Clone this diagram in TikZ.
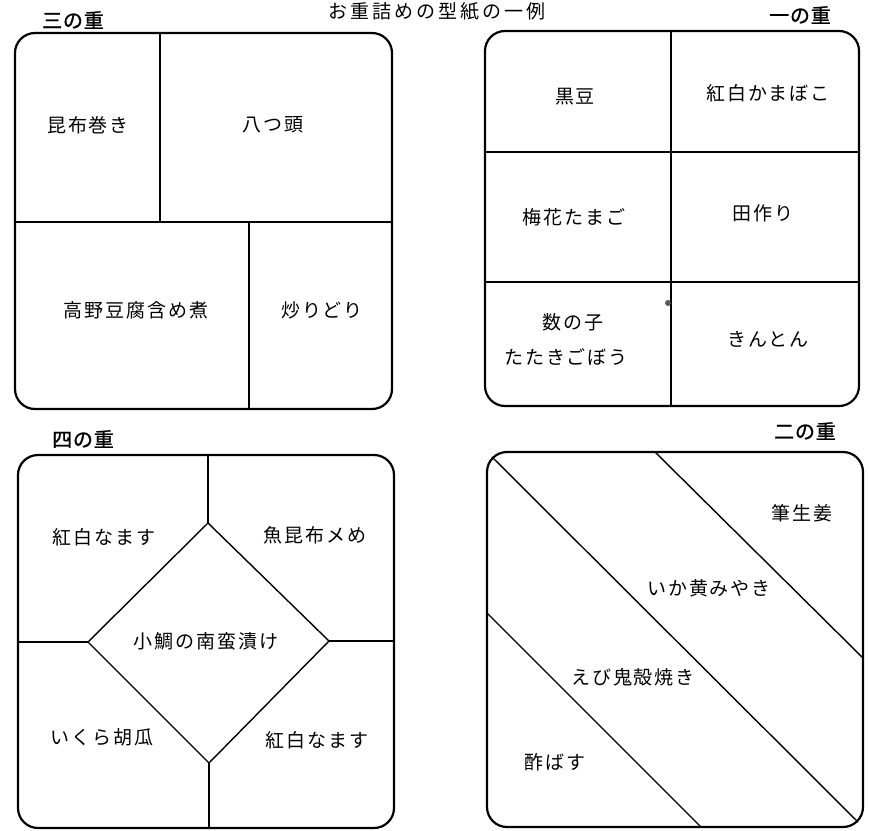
\documentclass[tikz,border=0pt]{standalone}
\usepackage{fontspec}
\setmainfont{Noto Sans CJK JP}
\newfontfamily\jpfont[LetterSpace=10]{Noto Sans CJK JP}
\newfontfamily\jptitle[LetterSpace=16]{Noto Sans CJK JP}
\newfontfamily\jplabel[FakeBold=1.2,LetterSpace=4]{Noto Sans CJK JP}
\begin{document}
\begin{tikzpicture}[x=1pt,y=-1pt,
  outer/.style={line width=2.2pt, rounded corners=20pt},
  divline/.style={line width=1.4pt},
  food/.style={font=\jpfont\fontsize{19}{19}\selectfont, inner sep=0pt},
  boxlabel/.style={font=\jplabel\fontsize{20}{20}\selectfont, inner sep=0pt},
  titletext/.style={font=\jptitle\fontsize{19}{19}\selectfont, inner sep=0pt}]
\useasboundingbox[fill=white] (0,0) rectangle (870,830);

% title
\node[titletext] (title) at (437,11) {お重詰めの型紙の一例};

% ---------- 三の重 (top left) ----------
\node[boxlabel] (l3) at (73,20) {三の重};
\draw[outer] (15,33) rectangle (392,409);
\coordinate (a1) at (160,33);
\coordinate (a2) at (160,222);
\coordinate (a3) at (15,222);
\coordinate (a4) at (392,222);
\coordinate (a5) at (249,222);
\coordinate (a6) at (249,409);
\draw[divline] (a1) -- (a2);
\draw[divline] (a3) -- (a4);
\draw[divline] (a5) -- (a6);
\node[food] (f31) at (88,125) {昆布巻き};
\node[food] (f32) at (273,125) {八つ頭};
\node[food] (f33) at (136,310) {高野豆腐含め煮};
\node[food] (f34) at (322,310) {炒りどり};

% ---------- 一の重 (top right) ----------
\node[boxlabel] (l1) at (800,15) {一の重};
\draw[outer] (485,31) rectangle (859,406);
\coordinate (b1) at (671,31);
\coordinate (b2) at (671,406);
\coordinate (b3) at (485,152);
\coordinate (b4) at (859,152);
\coordinate (b5) at (485,282);
\coordinate (b6) at (859,282);
\draw[divline] (b1) -- (b2);
\draw[divline] (b3) -- (b4);
\draw[divline] (b5) -- (b6);
\fill[gray!70!black] (668,303) circle (3pt);
\node[food] (f11) at (575,97) {黒豆};
\node[food] (f12) at (768,93) {紅白かまぼこ};
\node[food] (f13) at (574,217) {梅花たまご};
\node[food] (f14) at (763,213) {田作り};
\node[food] (f15) at (573,322) {数の子};
\node[food] (f16) at (566,357) {たたきごぼう};
\node[food] (f17) at (768,339) {きんとん};

% ---------- 四の重 (bottom left) ----------
\node[boxlabel] (l4) at (83,439) {四の重};
\draw[outer] (18,455) rectangle (394,828);
\coordinate (dt) at (208,523);
\coordinate (dr) at (329,641);
\coordinate (db) at (209,763);
\coordinate (dl) at (88,642);
\coordinate (et) at (208,455);
\coordinate (er) at (394,641);
\coordinate (eb) at (209,828);
\coordinate (el) at (18,642);
\draw[divline] (dt) -- (dr) -- (db) -- (dl) -- cycle;
\draw[divline] (dt) -- (et);
\draw[divline] (dr) -- (er);
\draw[divline] (db) -- (eb);
\draw[divline] (dl) -- (el);
\node[food] (f41) at (104,537) {紅白なます};
\node[food] (f42) at (315,535) {魚昆布メめ};
\node[food] (f43) at (206,641) {小鯛の南蛮漬け};
\node[food] (f44) at (102,737) {いくら胡瓜};
\node[food] (f45) at (317,740) {紅白なます};

% ---------- 二の重 (bottom right) ----------
\node[boxlabel] (l2) at (805,431) {二の重};
\draw[outer] (487,452) rectangle (863,827);
\coordinate (c1) at (492,457);
\coordinate (c2) at (858,822);
\coordinate (c3) at (655,452);
\coordinate (c4) at (863,658);
\coordinate (c5) at (487,613);
\coordinate (c6) at (701,827);
\draw[divline] (c1) -- (c2);
\draw[divline] (c3) -- (c4);
\draw[divline] (c5) -- (c6);
\node[food] (f21) at (802,513) {筆生姜};
\node[food] (f22) at (709,588) {いか黄みやき};
\node[food] (f23) at (633,677) {えび鬼殻焼き};
\node[food] (f24) at (555,762) {酢ばす};
\end{tikzpicture}
\end{document}
